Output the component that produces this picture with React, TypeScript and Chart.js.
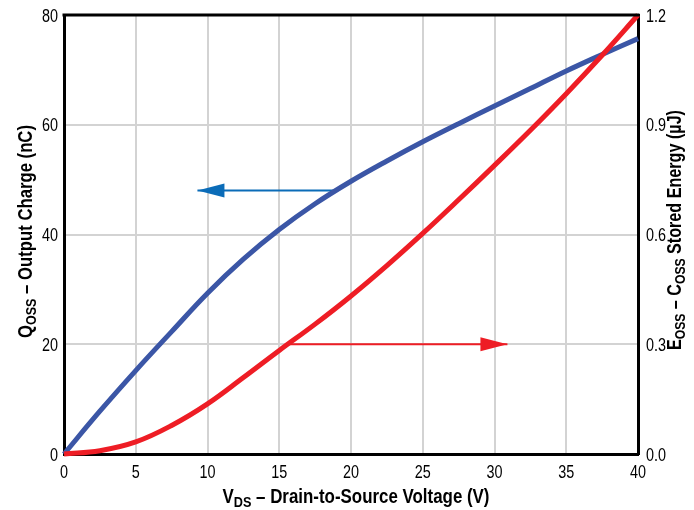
import React, { useEffect, useRef } from "react";
import { Chart, registerables } from "chart.js";

Chart.register(...registerables);

// ---- data ----
const voltage = [0, 2.5, 5, 7.5, 10, 12.5, 15, 17.5, 20, 22.5, 25, 27.5, 30, 32.5, 35, 37.5, 40];
const qoss = [0, 7.8, 15.2, 22.3, 29.3, 35.5, 40.9, 45.6, 49.7, 53.4, 56.9, 60.2, 63.4, 66.6, 69.8, 72.8, 75.7];
const eoss = [0, 0.009, 0.033, 0.078, 0.137, 0.209, 0.283, 0.355, 0.432, 0.515, 0.603, 0.695, 0.789, 0.885, 0.985, 1.09, 1.2];

const qArrowX = [18.9, 9.3];
const qArrowY = [48, 48];
const eArrowX = [15.7, 30.9];
const eArrowY = [0.3, 0.3];

const xTicks = [0, 5, 10, 15, 20, 25, 30, 35, 40];
const qTicks = [0, 20, 40, 60, 80];
const eTicks = [0, 0.3, 0.6, 0.9, 1.2];

const xTitle = [
  { t: "V", sub: false },
  { t: "DS", sub: true },
  { t: " \u2013 Drain-to-Source Voltage (V)", sub: false },
];
const qTitle = [
  { t: "Q", sub: false },
  { t: "OSS", sub: true },
  { t: " \u2013 Output Charge (nC)", sub: false },
];
const eTitle = [
  { t: "E", sub: false },
  { t: "OSS", sub: true },
  { t: " \u2013 C", sub: false },
  { t: "OSS", sub: true },
  { t: " Stored Energy (\u00b5J)", sub: false },
];

const BLUE = "#3b56a6";
const RED = "#ee1d25";
const ARROW_BLUE = "#0b6cb8";
const TICK_FONT = "'Liberation Sans', Arial, sans-serif";
const TITLE_FONT = "'Liberation Sans', Arial, sans-serif";

function drawTitle(ctx: CanvasRenderingContext2D, segs: { t: string; sub: boolean }[], x: number, y: number, rot: number, targetW: number, size: number) {
  const subSize = Math.round(size * 0.75);
  const fMain = `bold ${size}px ${TITLE_FONT}`;
  const fSub = `bold ${subSize}px ${TITLE_FONT}`;
  let total = 0;
  const widths = segs.map((s) => {
    ctx.font = s.sub ? fSub : fMain;
    const w = ctx.measureText(s.t).width;
    total += w;
    return w;
  });
  const sx = targetW / total;
  ctx.save();
  ctx.translate(x, y);
  ctx.rotate(rot);
  ctx.scale(sx, 1);
  ctx.fillStyle = "#000";
  ctx.textBaseline = "alphabetic";
  ctx.textAlign = "left";
  let cx = -total / 2;
  segs.forEach((s, i) => {
    ctx.font = s.sub ? fSub : fMain;
    ctx.fillText(s.t, cx, s.sub ? 3.5 : 0);
    cx += widths[i];
  });
  ctx.restore();
}

function drawNarrow(ctx: CanvasRenderingContext2D, text: string, x: number, y: number, align: "left" | "right" | "center") {
  const sx = 0.8;
  ctx.save();
  ctx.font = `18px ${TICK_FONT}`;
  const w = ctx.measureText(text).width * sx;
  let left = x;
  if (align === "right") left = x - w;
  else if (align === "center") left = x - w / 2;
  ctx.translate(left, y);
  ctx.scale(sx, 1);
  ctx.fillStyle = "#000";
  ctx.textAlign = "left";
  ctx.textBaseline = "alphabetic";
  ctx.fillText(text, 0, 0);
  ctx.restore();
}

const decorPlugin = {
  id: "decor",
  afterDatasetsDraw(chart: any) {
    const ctx = chart.ctx as CanvasRenderingContext2D;
    chart.data.datasets.forEach((ds: any, i: number) => {
      if (!ds.arrowHead) return;
      const pts = chart.getDatasetMeta(i).data;
      const a = pts[0];
      const b = pts[pts.length - 1];
      const dir = Math.sign(b.x - a.x);
      const len = 27;
      const half = 7;
      ctx.save();
      ctx.fillStyle = ds.borderColor;
      ctx.beginPath();
      ctx.moveTo(b.x, b.y);
      ctx.lineTo(b.x - dir * len, b.y - half);
      ctx.lineTo(b.x - dir * len, b.y + half);
      ctx.closePath();
      ctx.fill();
      ctx.restore();
    });
  },
  afterDraw(chart: any) {
    const ctx = chart.ctx as CanvasRenderingContext2D;
    const { left, right, top, bottom } = chart.chartArea;
    ctx.save();
    ctx.strokeStyle = "#000";
    ctx.lineWidth = 3;
    ctx.beginPath();
    ctx.moveTo(left - 1.5, top);
    ctx.lineTo(right + 1.5, top);
    ctx.stroke();
    ctx.restore();

    // tick labels, positioned by the library's scales
    const sx = chart.scales.x;
    sx.ticks.forEach((t: any) => drawNarrow(ctx, String(t.value), sx.getPixelForValue(t.value), bottom + 24, "center"));
    const sy = chart.scales.y;
    sy.ticks.forEach((t: any) => drawNarrow(ctx, String(t.value), left - 6, sy.getPixelForValue(t.value) + 6.5, "right"));
    const sy1 = chart.scales.y1;
    sy1.ticks.forEach((t: any) => drawNarrow(ctx, Number(t.value).toFixed(1), right + 8, sy1.getPixelForValue(t.value) + 6.5, "left"));

    drawTitle(ctx, xTitle, 356, 503, 0, 267, 20);
    drawTitle(ctx, qTitle, 32, 231.5, -Math.PI / 2, 213, 20);
    drawTitle(ctx, eTitle, 681, 230, -Math.PI / 2, 240, 20);
  },
};

export default function App() {
  const ref = useRef<HTMLCanvasElement | null>(null);
  useEffect(() => {
    if (!ref.current) return;
    const chart = new Chart(ref.current, {
      type: "line",
      data: {
        datasets: [
          {
            label: "Eoss",
            data: voltage.map((v, i) => ({ x: v, y: eoss[i] })),
            yAxisID: "y1",
            borderColor: RED,
            borderWidth: 5,
            pointRadius: 0,
            tension: 0.4,
            fill: false,
            clip: 4,
            order: 0,
          } as any,
          {
            label: "Qoss",
            data: voltage.map((v, i) => ({ x: v, y: qoss[i] })),
            yAxisID: "y",
            borderColor: BLUE,
            borderWidth: 5,
            pointRadius: 0,
            tension: 0.4,
            fill: false,
            clip: 4,
            order: 1,
          } as any,
          {
            label: "qArrow",
            data: qArrowX.map((v, i) => ({ x: v, y: qArrowY[i] })),
            yAxisID: "y",
            borderColor: ARROW_BLUE,
            borderWidth: 2,
            pointRadius: 0,
            tension: 0,
            arrowHead: true,
            order: 2,
          } as any,
          {
            label: "eArrow",
            data: eArrowX.map((v, i) => ({ x: v, y: eArrowY[i] })),
            yAxisID: "y1",
            borderColor: RED,
            borderWidth: 2,
            pointRadius: 0,
            tension: 0,
            arrowHead: true,
            order: 2,
          } as any,
        ],
      },
      options: {
        animation: false,
        responsive: false,
        events: [],
        layout: { padding: { top: 15, left: 0, right: 0, bottom: 0 } },
        plugins: { legend: { display: false }, tooltip: { enabled: false }, title: { display: false } },
        scales: {
          x: {
            type: "linear",
            min: 0,
            max: 40,
            afterBuildTicks: (s: any) => { s.ticks = xTicks.map((v) => ({ value: v })); },
            afterFit: (s: any) => { s.height = 56; },
            grid: { color: "#d3d3d3", lineWidth: 2, drawTicks: false },
            border: { color: "#000", width: 3 },
            ticks: { display: false },
          },
          y: {
            type: "linear",
            position: "left",
            min: 0,
            max: 80,
            afterBuildTicks: (s: any) => { s.ticks = qTicks.map((v) => ({ value: v })); },
            afterFit: (s: any) => { s.width = 64; },
            grid: { color: "#d3d3d3", lineWidth: 2, drawTicks: false },
            border: { color: "#000", width: 3 },
            ticks: { display: false },
          },
          y1: {
            type: "linear",
            position: "right",
            min: 0,
            max: 1.2,
            afterBuildTicks: (s: any) => { s.ticks = eTicks.map((v) => ({ value: v })); },
            afterFit: (s: any) => { s.width = 56; },
            grid: { display: false, drawTicks: false },
            border: { color: "#000", width: 3 },
            ticks: { display: false },
          },
        },
      } as any,
      plugins: [decorPlugin],
    });
    return () => chart.destroy();
  }, []);
  return (
    <div style={{ position: "fixed", left: 0, top: 0, width: 694, height: 510, background: "#fff" }}>
      <canvas ref={ref} width={694} height={510} style={{ width: 694, height: 510, display: "block" }} />
    </div>
  );
}
